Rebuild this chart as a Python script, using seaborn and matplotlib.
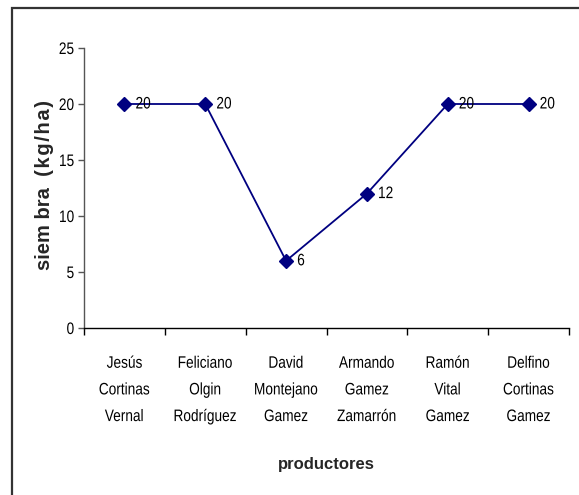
import numpy as np
import pandas as pd
import seaborn as sns
import matplotlib.pyplot as plt
from matplotlib.patches import Rectangle
from matplotlib.patheffects import AbstractPathEffect
from matplotlib.transforms import Affine2D

# Data
productores = [
    "Jesús\nCortinas\nVernal",
    "Feliciano\nOlgin\nRodríguez",
    "David\nMontejano\nGamez",
    "Armando\nGamez\nZamarrón",
    "Ramón\nVital\nGamez",
    "Delfino\nCortinas\nGamez",
]
siembra = [20, 20, 6, 12, 20, 20]
y_ticks = [0, 5, 10, 15, 20, 25]
y_title_word = "siem bra"
y_title_unit = "(kg/ha)"
x_title = "productores"


class Narrow(AbstractPathEffect):
    """Draw text glyphs horizontally condensed, keeping the text alignment."""

    def __init__(self, sx=0.82, align="center"):
        super().__init__()
        self.sx = sx
        self.align = align

    def draw_path(self, renderer, gc, tpath, affine, rgbFace=None):
        w = tpath.get_extents().x1
        shift = {"left": 0.0,
                 "center": (1 - self.sx) * w / 2,
                 "right": (1 - self.sx) * w}[self.align]
        local = Affine2D().scale(self.sx, 1.0).translate(shift, 0.0)
        renderer.draw_path(gc, tpath, local + affine, rgbFace)


sns.set_theme(style="white")
plt.rcParams['font.family'] = ['Liberation Sans', 'DejaVu Sans']

W, H = 579, 495
fig = plt.figure(figsize=(W / 100, H / 100), dpi=100)
fig.patch.set_facecolor("white")
ax = fig.add_axes([84 / W, 1 - 328 / H, (569 - 84) / W, (328 - 48) / H])

df = pd.DataFrame({"productor": productores, "siembra": siembra})
sns.pointplot(data=df, x="productor", y="siembra", color="#000080",
              markers="D", markersize=7, linewidth=1.3, errorbar=None, ax=ax)

for i, v in enumerate(siembra):
    t = ax.annotate(str(v), (i, v), xytext=(8, 0), textcoords="offset points",
                    ha="left", va="center", fontsize=12, color="black")
    t.set_path_effects([Narrow(0.82, "left")])

ax.set_xlim(-0.5, len(productores) - 0.5)
ax.set_ylim(0, 25)
ax.set_yticks(y_ticks)
ylabs = ax.set_yticklabels([str(t) for t in y_ticks], fontsize=12)
ax.set_xticks(range(len(productores)))
xlabs = ax.set_xticklabels(productores, fontsize=12, linespacing=1.97)
ax.set_xticks(np.arange(-0.5, len(productores), 1), minor=True)
for lbl in xlabs:
    lbl.set_path_effects([Narrow(0.82, "center")])
for lbl in ylabs:
    lbl.set_path_effects([Narrow(0.82, "right")])

ax.tick_params(axis="x", which="major", length=0, pad=20, colors="black")
ax.tick_params(axis="x", which="minor", bottom=True, length=5, width=1, color="black")
ax.tick_params(axis="y", left=True, length=4, width=1, color="#555555", pad=3, labelcolor="black")

for side in ("top", "right"):
    ax.spines[side].set_visible(False)
ax.spines["left"].set_color("#555555")
ax.spines["left"].set_linewidth(1)
ax.spines["bottom"].set_color("black")
ax.spines["bottom"].set_linewidth(1)
ax.grid(False)

# Axis titles; the unit part is letter-spaced with hair spaces
ax.set_ylabel(y_title_word + "  " + "\u200a".join(y_title_unit),
              fontsize=14.5, fontweight="bold")
ax.yaxis.set_label_coords(-0.062, 0.51)
ax.set_xlabel(x_title, fontsize=12, fontweight="bold", labelpad=24)

# Outer frame of the chart area
fig.add_artist(Rectangle((12 / W, -0.05), 1.0, (H - 8) / H + 0.05,
                         transform=fig.transFigure, fill=False,
                         edgecolor="#333333", linewidth=1.6, clip_on=False))

fig.savefig("out.png", dpi=100, facecolor="white")
